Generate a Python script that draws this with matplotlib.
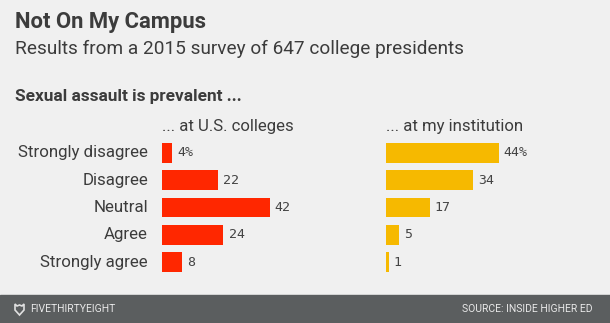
import numpy as np
import matplotlib.pyplot as plt
from matplotlib.patches import Rectangle, Polygon

W, H = 610, 323
BG = "#f0f0f0"
RED = "#ff2700"
YELLOW = "#f6b900"
TXT = "#3c3c3c"

responses = ["Strongly disagree", "Disagree", "Neutral", "Agree", "Strongly agree"]
us_colleges = [4, 22, 42, 24, 8]
my_institution = [44, 34, 17, 5, 1]

plt.rcParams['font.family'] = ['Roboto', 'DejaVu Sans']

fig = plt.figure(figsize=(W / 100, H / 100), dpi=100)
fig.patch.set_facecolor(BG)

def fx(x):
    return x / W

def fy(y):
    return 1 - y / H

PX_PER_PCT = 2.56
ROW = 27.25
top = 153 - ROW / 2
bottom = 262 + ROW / 2

def panel(x0, vals, color, header):
    width = 200
    ax = fig.add_axes([fx(x0), fy(bottom), width / W, (bottom - top) / H])
    ax.set_xlim(0, width / PX_PER_PCT)
    ax.set_ylim(len(vals) - 0.5, -0.5)
    ypos = np.arange(len(vals))
    ax.barh(ypos, vals, height=0.73, color=color)
    for i, v in enumerate(vals):
        lab = f"{v}%" if i == 0 else str(v)
        ax.text(v + 2.0, i, lab, va="center", ha="left", fontsize=9.5,
                family="DejaVu Sans Mono", color="#444444")
    ax.axis("off")
    fig.text(fx(x0), fy(127), header, fontsize=12.1, color=TXT, va="center", ha="left")
    return ax

ax1 = panel(162, us_colleges, RED, "... at U.S. colleges")
ax2 = panel(386, my_institution, YELLOW, "... at my institution")

for i, r in enumerate(responses):
    fig.text(fx(148), fy(153 + i * ROW), r, fontsize=12.2, color=TXT, va="center", ha="right")

fig.text(fx(15), fy(22), "Not On My Campus", fontsize=15.8, weight="bold", color=TXT, va="center")
fig.text(fx(15), fy(49), "Results from a 2015 survey of 647 college presidents",
         fontsize=13.7, color=TXT, va="center")
fig.text(fx(15), fy(97), "Sexual assault is prevalent ...", fontsize=12.4, weight="bold",
         color=TXT, va="center")

# footer
fig.patches.append(Rectangle((0, 0), 1, (H - 295) / H, transform=fig.transFigure,
                             color="#5b5e5f", zorder=0))
fox = [(15, 304), (17, 306), (19.5, 305), (22, 306), (24, 304), (24, 310),
       (19.5, 315), (15, 310)]
fig.patches.append(Polygon([(fx(a), fy(b)) for a, b in fox], closed=True,
                           transform=fig.transFigure, fill=False,
                           edgecolor="#e0e0e0", linewidth=1.2))
fig.text(fx(30), fy(309), "FIVETHIRTYEIGHT", fontsize=7.5, color="#e8e8e8", va="center")
fig.text(fx(593), fy(309), "SOURCE: INSIDE HIGHER ED", fontsize=7.5, color="#e8e8e8",
         va="center", ha="right")

fig.savefig("out.png", dpi=100, facecolor=BG)
